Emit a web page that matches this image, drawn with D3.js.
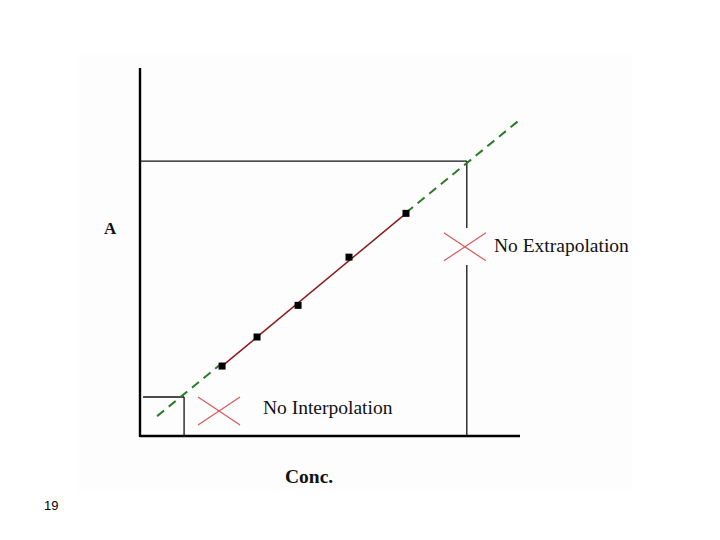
<!DOCTYPE html>
<html>
<head>
<meta charset="utf-8">
<script src="https://cdn.jsdelivr.net/npm/d3@7"></script>
<style>
  html, body { margin: 0; padding: 0; background: #ffffff; }
  svg { display: block; }
</style>
</head>
<body>
<svg id="chart" width="720" height="540"></svg>
<script>
// ---- data (arbitrary units) ----
const standardConc = [2.16, 3.08, 4.16, 5.50, 7.00];
const standardAbs  = [1.90, 2.69, 3.55, 4.86, 6.05];
// calibration line as drawn (two end points of the dashed extension)
const lineConc = [0.45, 10.05];
const lineAbs  = [0.54, 8.64];
// limits of the calibrated range
const lowLimit  = { conc: 1.16, abs: 1.06 };
const highLimit = { conc: 8.60, abs: 7.47 };
// gap in the upper-limit vertical line where the cross sits
const highGap = [4.65, 5.65];
// crosses (centres)
const crosses = [
  { conc: 2.08, abs: 0.68, label: "No Interpolation" },
  { conc: 8.55, abs: 5.14, label: "No Extrapolation" }
];
const axisLabels = { x: "Conc.", y: "A" };
const pageNumber = "19";

// ---- scales ----
const x = d3.scaleLinear().domain([0, 10]).range([140, 520]);
const y = d3.scaleLinear().domain([0, 10]).range([436, 68]);

const svg = d3.select("#chart");

// slide picture background (very faint)
svg.append("rect").attr("x", 78).attr("y", 53).attr("width", 554).attr("height", 440)
  .attr("fill", "#fdfdfd");

const slope = (lineAbs[1] - lineAbs[0]) / (lineConc[1] - lineConc[0]);
const fit = c => lineAbs[0] + slope * (c - lineConc[0]);

// limit boxes
const thin = svg.append("g").attr("stroke", "#111").attr("stroke-width", 1.3).attr("fill", "none");
thin.append("line").attr("x1", x(0)).attr("x2", x(highLimit.conc))
  .attr("y1", y(highLimit.abs)).attr("y2", y(highLimit.abs));
thin.append("line").attr("x1", x(highLimit.conc)).attr("x2", x(highLimit.conc))
  .attr("y1", y(highLimit.abs)).attr("y2", y(highGap[1]));
thin.append("line").attr("x1", x(highLimit.conc)).attr("x2", x(highLimit.conc))
  .attr("y1", y(highGap[0])).attr("y2", y(0));
thin.append("line").attr("x1", x(0.08)).attr("x2", x(lowLimit.conc))
  .attr("y1", y(lowLimit.abs)).attr("y2", y(lowLimit.abs));
thin.append("line").attr("x1", x(lowLimit.conc)).attr("x2", x(lowLimit.conc))
  .attr("y1", y(lowLimit.abs)).attr("y2", y(0));

// dashed green extensions
const lineGen = d3.line().x(d => x(d[0])).y(d => y(d[1]));
const segs = [
  [lineConc[0], standardConc[0]],
  [standardConc[standardConc.length - 1], lineConc[1]]
];
svg.append("g").selectAll("path").data(segs).join("path")
  .attr("d", s => lineGen([[s[0], fit(s[0])], [s[1], fit(s[1])]]))
  .attr("stroke", "#2a7a2a").attr("stroke-width", 2).attr("fill", "none")
  .attr("stroke-dasharray", "9,6");

// red fitted line over the standards
const c0 = standardConc[0], c1 = standardConc[standardConc.length - 1];
svg.append("path")
  .attr("d", lineGen([[c0, standardAbs[0]], [c1, standardAbs[standardAbs.length - 1]]]))
  .attr("stroke", "#8b1c1c").attr("stroke-width", 1.5).attr("fill", "none");

// standard points
svg.append("g").selectAll("rect").data(standardConc).join("rect")
  .attr("x", (d) => x(d) - 3.5)
  .attr("y", (d, i) => y(standardAbs[i]) - 3.5)
  .attr("width", 7).attr("height", 7).attr("fill", "#000");

// axes
const axes = svg.append("g").attr("stroke", "#000").attr("stroke-width", 2.4);
axes.append("line").attr("x1", x(0)).attr("x2", x(0)).attr("y1", y(10)).attr("y2", y(0) + 1);
axes.append("line").attr("x1", x(0)).attr("x2", x(10)).attr("y1", y(0)).attr("y2", y(0));

// crosses
const cr = svg.append("g").attr("stroke", "#d75a5a").attr("stroke-width", 1.2);
crosses.forEach(c => {
  const cx = x(c.conc), cy = y(c.abs);
  cr.append("line").attr("x1", cx - 21).attr("y1", cy - 14).attr("x2", cx + 21).attr("y2", cy + 14);
  cr.append("line").attr("x1", cx - 21).attr("y1", cy + 14).attr("x2", cx + 21).attr("y2", cy - 14);
});

// cross labels
const serif = "Liberation Serif, Times New Roman, serif";
svg.append("text").attr("x", 263).attr("y", 414)
  .attr("font-family", serif).attr("font-size", 19.5)
  .attr("fill", "#111").text(crosses[0].label);
svg.append("text").attr("x", 494).attr("y", 252)
  .attr("font-family", serif).attr("font-size", 19.5)
  .attr("fill", "#111").text(crosses[1].label);

// axis labels
svg.append("text").attr("x", 104).attr("y", 234)
  .attr("font-family", serif).attr("font-size", 17)
  .attr("font-weight", "bold").attr("fill", "#111").text(axisLabels.y);
svg.append("text").attr("x", 285).attr("y", 483)
  .attr("font-family", serif).attr("font-size", 19.5)
  .attr("font-weight", "bold").attr("fill", "#111").text(axisLabels.x);

// page number
svg.append("text").attr("x", 44).attr("y", 510)
  .attr("font-family", "Liberation Sans, Arial, sans-serif").attr("font-size", 13)
  .attr("fill", "#000").text(pageNumber);
</script>
</body>
</html>
